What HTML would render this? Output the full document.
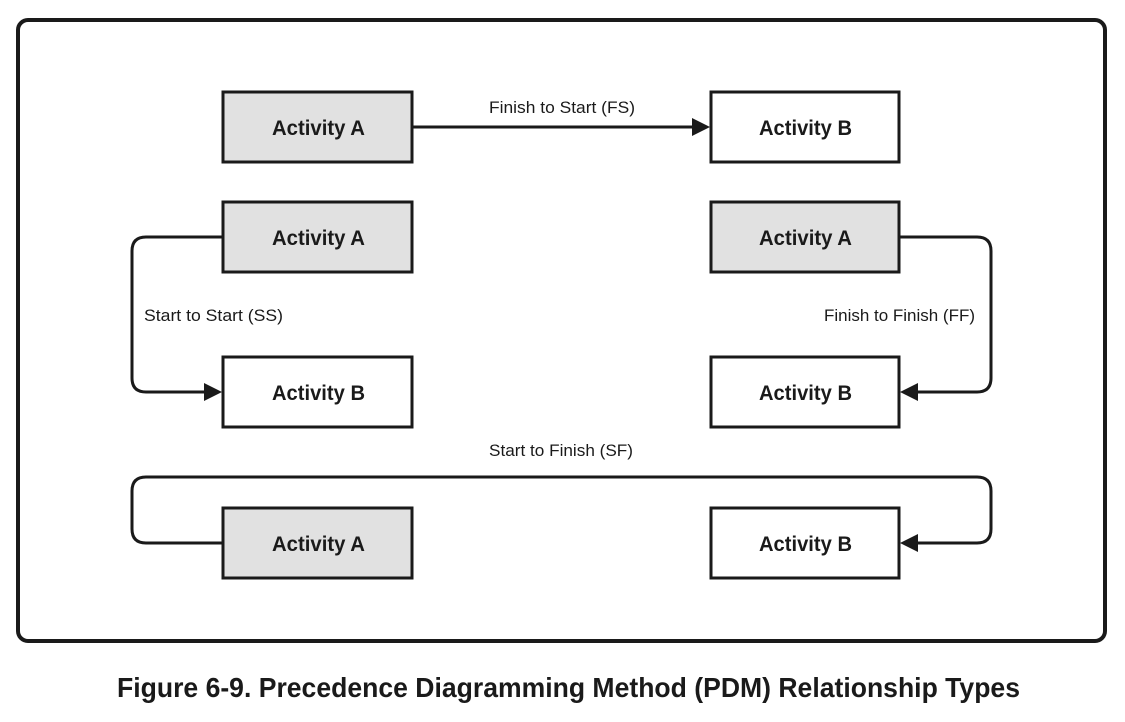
<!DOCTYPE html>
<html><head><style>
body{margin:0;background:#fff;width:1125px;height:717px;overflow:hidden}
svg text{font-family:"Liberation Sans Narrow","Liberation Sans",sans-serif}
</style></head><body>
<svg width="1125" height="717" viewBox="0 0 1125 717">
<rect x="18" y="20" width="1087" height="621" rx="10" fill="#fff" stroke="#1a1a1a" stroke-width="4"/>
<g stroke="#1a1a1a" stroke-width="3">
<rect x="223" y="92" width="189" height="70" fill="#e1e1e1"/>
<rect x="711" y="92" width="188" height="70" fill="#fff"/>
<rect x="223" y="202" width="189" height="70" fill="#e1e1e1"/>
<rect x="711" y="202" width="188" height="70" fill="#e1e1e1"/>
<rect x="223" y="357" width="189" height="70" fill="#fff"/>
<rect x="711" y="357" width="188" height="70" fill="#fff"/>
<rect x="223" y="508" width="189" height="70" fill="#e1e1e1"/>
<rect x="711" y="508" width="188" height="70" fill="#fff"/>
</g>
<g stroke="#1a1a1a" stroke-width="3" fill="none">
<path d="M412 127 H695"/>
<path d="M222 237 H146 Q132 237 132 251 V378 Q132 392 146 392 H208"/>
<path d="M900 237 H977 Q991 237 991 251 V378 Q991 392 977 392 H915"/>
<path d="M222 543 H146 Q132 543 132 529 V491 Q132 477 146 477 H977 Q991 477 991 491 V529 Q991 543 977 543 H915"/>
</g>
<g fill="#1a1a1a">
<polygon points="710,127 692,118 692,136"/>
<polygon points="222,392 204,383 204,401"/>
<polygon points="900,392 918,383 918,401"/>
<polygon points="900,543 918,534 918,552"/>
</g>
<g font-weight="bold" font-size="21" fill="#1a1a1a">
<text x="272" y="135" textLength="93" lengthAdjust="spacingAndGlyphs">Activity A</text>
<text x="759" y="135" textLength="93" lengthAdjust="spacingAndGlyphs">Activity B</text>
<text x="272" y="245" textLength="93" lengthAdjust="spacingAndGlyphs">Activity A</text>
<text x="759" y="245" textLength="93" lengthAdjust="spacingAndGlyphs">Activity A</text>
<text x="272" y="400" textLength="93" lengthAdjust="spacingAndGlyphs">Activity B</text>
<text x="759" y="400" textLength="93" lengthAdjust="spacingAndGlyphs">Activity B</text>
<text x="272" y="551" textLength="93" lengthAdjust="spacingAndGlyphs">Activity A</text>
<text x="759" y="551" textLength="93" lengthAdjust="spacingAndGlyphs">Activity B</text>
</g>
<g font-size="17" fill="#1a1a1a">
<text x="489" y="113" textLength="146" lengthAdjust="spacingAndGlyphs">Finish to Start (FS)</text>
<text x="144" y="321" textLength="139" lengthAdjust="spacingAndGlyphs">Start to Start (SS)</text>
<text x="824" y="321" textLength="151" lengthAdjust="spacingAndGlyphs">Finish to Finish (FF)</text>
<text x="489" y="456" textLength="144" lengthAdjust="spacingAndGlyphs">Start to Finish (SF)</text>
</g>
<text x="117" y="697" textLength="903" lengthAdjust="spacingAndGlyphs" font-weight="bold" font-size="28" fill="#1a1a1a">Figure 6-9. Precedence Diagramming Method (PDM) Relationship Types</text>
</svg>
</body></html>
